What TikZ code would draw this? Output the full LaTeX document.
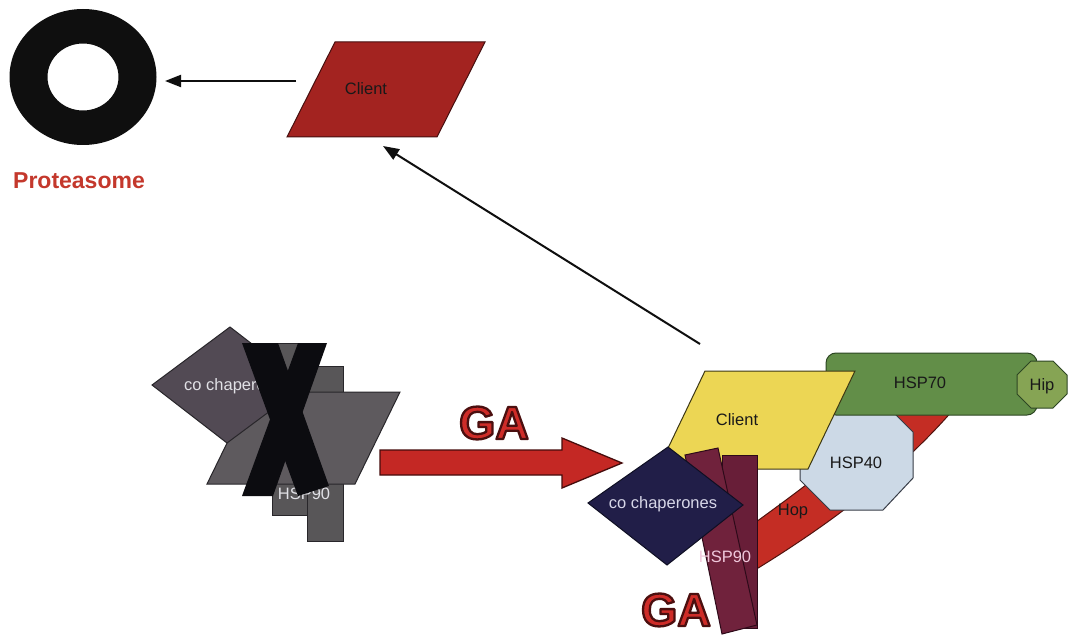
\documentclass[tikz,border=0pt]{standalone}
\usepackage{fontspec}
\setmainfont{Liberation Sans}
\usetikzlibrary{arrows.meta}

\definecolor{ringblack}{RGB}{15,15,15}
\definecolor{protred}{RGB}{196,56,44}
\definecolor{clientdark}{RGB}{163,35,32}
\definecolor{clientdarkline}{RGB}{70,15,15}
\definecolor{clientyellow}{RGB}{236,214,84}
\definecolor{yellowline}{RGB}{60,55,20}
\definecolor{hspseventy}{RGB}{98,142,72}
\definecolor{hipgreen}{RGB}{134,164,84}
\definecolor{greenline}{RGB}{45,70,35}
\definecolor{hspforty}{RGB}{204,217,230}
\definecolor{fortyline}{RGB}{55,60,70}
\definecolor{hopred}{RGB}{196,45,36}
\definecolor{hopline}{RGB}{80,20,15}
\definecolor{maroonA}{RGB}{104,30,56}
\definecolor{maroonB}{RGB}{112,34,60}
\definecolor{maroonline}{RGB}{45,10,25}
\definecolor{navy}{RGB}{33,30,72}
\definecolor{navyline}{RGB}{15,15,35}
\definecolor{greyrect}{RGB}{88,86,88}
\definecolor{greypar}{RGB}{94,90,94}
\definecolor{greydia}{RGB}{82,74,84}
\definecolor{greyline}{RGB}{40,38,42}
\definecolor{crossblack}{RGB}{12,12,16}
\definecolor{arrowred}{RGB}{196,40,36}
\definecolor{arrowline}{RGB}{70,12,12}
\definecolor{gared}{RGB}{206,44,40}
\definecolor{textdark}{RGB}{25,25,25}
\definecolor{greytext}{RGB}{225,225,230}
\definecolor{navytext}{RGB}{215,215,232}
\definecolor{hspnintytext}{RGB}{240,200,220}

% red letters with a dark contour (fill + stroke text render mode)
\newcommand\outlinedtext[1]{%
  \special{pdf:literal direct 2 Tr 2.3 w 1 j 0.294 0.059 0.059 RG}#1%
  \special{pdf:literal direct 0 Tr}}

\tikzset{
  lbl/.style={font=\fontsize{16.5}{18}\selectfont, inner sep=0pt,
              text height=11.8pt, text depth=0pt, text=textdark},
  outl/.style={line width=1pt, line join=miter},
  thinarrow/.style={line width=2pt, draw=ringblack,
                    -{Triangle[length=16pt,width=12pt]}},
  galbl/.style={font=\fontsize{46.5}{46.5}\bfseries\selectfont, inner sep=0pt,
                text=gared}
}

\begin{document}
\begin{tikzpicture}[x=1pt,y=-1pt]
\useasboundingbox (0,0) rectangle (1068,636);
\fill[white] (0,0) rectangle (1068,636);

% ---------- proteasome ----------
\fill[ringblack, even odd rule]
  (83,77) ellipse [x radius=73.5pt, y radius=68pt]
  (83,77) ellipse [x radius=35.5pt, y radius=33.5pt];
\coordinate (protE) at (165,81);
\node[font=\fontsize{23}{26}\bfseries\selectfont, text=protred, inner sep=0pt,
      text height=16.5pt, text depth=0pt] (protLbl) at (79,180) {Proteasome};

% ---------- released client ----------
\filldraw[fill=clientdark, draw=clientdarkline, outl]
  (335,42) -- (485,42) -- (437,137) -- (287,137) -- cycle;
\node[lbl] (clientTop) at (366,89) {Client};
\coordinate (clientTopW) at (296,81);
\coordinate (clientTopS) at (383,146);
\draw[thinarrow] (clientTopW) -- (protE);

% ---------- inhibited complex (grey, crossed out) ----------
\filldraw[fill=greyrect, draw=greyline, outl] (272,343) rectangle (308,515);
\filldraw[fill=greyrect, draw=greyline, outl] (307,366) rectangle (343,541);
\filldraw[fill=greypar, draw=greyline, outl]
  (252,392) -- (400,392) -- (355,484) -- (207,484) -- cycle;
\filldraw[fill=greydia, draw=greyline, outl]
  (152,385) -- (230,327) -- (305,385) -- (227,443) -- cycle;
\node[lbl, text=greytext, anchor=west] (greyCo) at (184,385) {co chaperones};
\node[lbl, text=greytext] (greyHsp) at (304,494) {HSP90};
% the cross
\fill[crossblack] (242,343) -- (278,343) -- (329,486) -- (298,496) -- cycle;
\fill[crossblack] (298,343) -- (327,343) -- (273,496) -- (242,496) -- cycle;

% ---------- GA block arrow ----------
\coordinate (gaArrS) at (380,462.5);
\coordinate (gaArrT) at (622,463);
\filldraw[fill=arrowred, draw=arrowline, line width=1.3pt, line join=miter]
  (gaArrS) ++(0,-12.5) -- (562,450) -- (562,438) -- (gaArrT) -- (562,488)
  -- (562,475) -- (380,475) -- cycle;
\node[galbl] (gaMid) at (494,423) {\outlinedtext{GA}};

% ---------- active chaperone complex ----------
% Hop band
\filldraw[fill=hopred, draw=hopline, outl]
  (745,576) .. controls (830,525) and (910,465) .. (968,392)
  -- (905,392) .. controls (870,440) and (800,490) .. (745,530) -- cycle;
\node[lbl] (hopLbl) at (793,510) {Hop};
% HSP40
\filldraw[fill=hspforty, draw=fortyline, outl]
  (832,400) -- (881,400) -- (913,432) -- (913,478) -- (883,510)
  -- (830,510) -- (800,480) -- (800,432) -- cycle;
\node[lbl] (hsp40Lbl) at (856,463) {HSP40};
% HSP70
\filldraw[fill=hspseventy, draw=greenline, outl, rounded corners=10pt]
  (826,353) rectangle (1037,415);
\node[lbl] (hsp70Lbl) at (920,383) {HSP70};
% Hip
\filldraw[fill=hipgreen, draw=greenline, outl]
  (1031,361) -- (1053,361) -- (1067,375) -- (1067,394) -- (1053,408)
  -- (1031,408) -- (1017,394) -- (1017,375) -- cycle;
\node[lbl] (hipLbl) at (1042,385) {Hip};
% client
\filldraw[fill=clientyellow, draw=yellowline, outl]
  (705,371) -- (855,371) -- (808,469) -- (658,469) -- cycle;
\node[lbl] (clientLbl) at (737,420) {Client};
\coordinate (cplxTop) at (700,344);
\draw[thinarrow] (cplxTop) -- (clientTopS);
% HSP90 dimer
\filldraw[fill=maroonA, draw=maroonline, outl] (722,455) rectangle (757,628);
\filldraw[fill=maroonB, draw=maroonline, outl]
  (685,455) -- (718,448) -- (757,625) -- (722,634) -- cycle;
% co chaperones
\filldraw[fill=navy, draw=navyline, outl]
  (588,503) -- (668,447) -- (743,505) -- (667,565) -- cycle;
\node[lbl, text=navytext] (coLbl) at (663,503) {co chaperones};
\node[lbl, text=hspnintytext] (hsp90Lbl) at (725,557) {HSP90};

\node[galbl] (gaLow) at (676,610) {\outlinedtext{GA}};
\end{tikzpicture}
\end{document}
